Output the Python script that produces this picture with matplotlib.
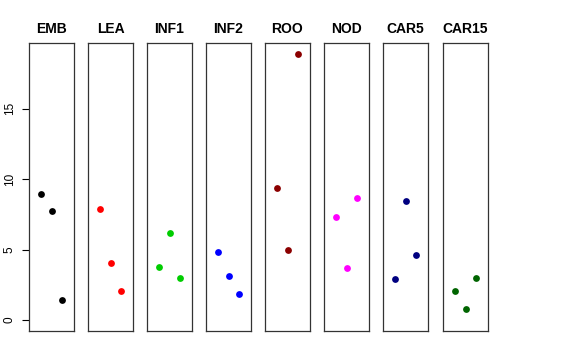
import matplotlib
matplotlib.use("Agg")
import matplotlib.pyplot as plt

plt.rcParams["font.family"] = ["Liberation Sans", "DejaVu Sans"]

tissues = ["EMB", "LEA", "INF1", "INF2", "ROO", "NOD", "CAR5", "CAR15"]
colors = ["black", "red", "#00CD00", "blue", "#8B0000", "magenta", "#000080", "#006400"]
rep = [1, 2, 3]
values = [
    [8.91, 7.73, 1.42],
    [7.85, 4.06, 2.08],
    [3.74, 6.15, 2.96],
    [4.85, 3.14, 1.84],
    [9.36, 4.96, 18.89],
    [7.30, 3.69, 8.63],
    [2.93, 8.42, 4.63],
    [2.04, 0.80, 2.98],
]
yticks = [0, 5, 10, 15]

W, H = 576, 360
fig = plt.figure(figsize=(W / 100, H / 100), dpi=100)
lefts = [29, 88, 147, 206, 265, 324, 383, 443]
pw, top, bot = 45, 43, 331

for i, (name, col, ys) in enumerate(zip(tissues, colors, values)):
    ax = fig.add_axes([lefts[i] / W, 1 - bot / H, pw / W, (bot - top) / H])
    ax.scatter(rep, ys, s=24, color=col, linewidths=0, zorder=3)
    ax.set_xlim(2 - 2.17, 2 + 2.17)
    ax.set_ylim(-0.78, 19.65)
    ax.set_xticks([])
    ax.set_title(name, fontsize=10, fontweight="bold", pad=7)
    for s in ax.spines.values():
        s.set_linewidth(0.9)
        s.set_color("#333333")
    if i == 0:
        ax.set_yticks(yticks)
        ax.set_yticklabels([str(t) for t in yticks], rotation=90,
                           ha="center", va="center", fontsize=8.5)
        ax.tick_params(axis="y", length=5, width=0.8, pad=9)
    else:
        ax.set_yticks([])

fig.savefig("out.png", dpi=100)
